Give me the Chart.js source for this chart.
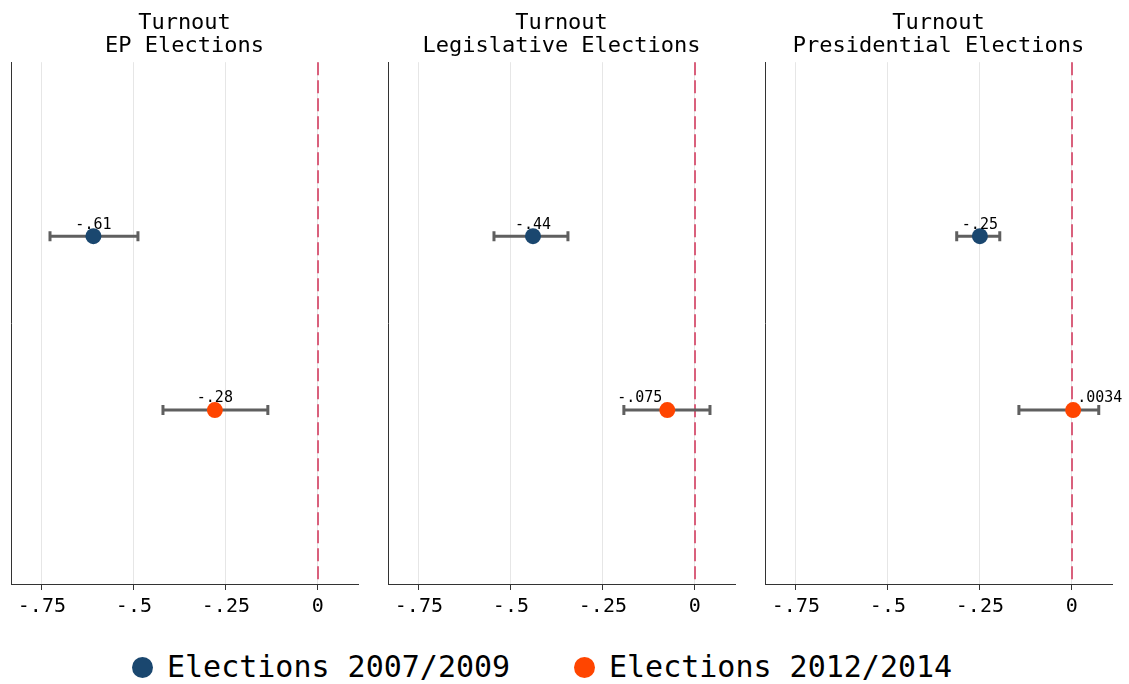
<!DOCTYPE html>
<html>
<head>
<meta charset="utf-8">
<script src="https://cdn.jsdelivr.net/npm/chart.js@4"></script>
<style>
  body { margin: 0; background: #fff; width: 1129px; height: 684px; overflow: hidden; position: relative; }
  .panel { position: absolute; top: 0; width: 375px; height: 640px; }
  .legitem { position: absolute; top: 649px; font-family: "DejaVu Sans Mono", monospace; font-size: 30px; line-height: 36px; white-space: nowrap; color: #000; }
  .dot { display: inline-block; width: 21px; height: 21px; border-radius: 50%; vertical-align: -1px; margin-right: 14px; }
</style>
</head>
<body>
<div class="panel" style="left:0px"><canvas id="ep_graph" width="375" height="640"></canvas></div>
<div class="panel" style="left:377px"><canvas id="leg_graph" width="375" height="640"></canvas></div>
<div class="panel" style="left:754px"><canvas id="pres_graph" width="375" height="640"></canvas></div>
<div id="legend"></div>
<script>
// series names
const seriesNames = ['Elections 2007/2009', 'Elections 2012/2014'];
const seriesColors = ['#1a476f', '#ff4500'];

// panel titles
const epTitle = ['Turnout', 'EP Elections'];
const legTitle = ['Turnout', 'Legislative Elections'];
const presTitle = ['Turnout', 'Presidential Elections'];

// point estimates and 95% CI, [2007/2009, 2012/2014]
const epEst = [-0.61, -0.28];
const epLow = [-0.728, -0.421];
const epHigh = [-0.489, -0.136];

const legEst = [-0.44, -0.075];
const legLow = [-0.546, -0.193];
const legHigh = [-0.345, 0.041];

const presEst = [-0.25, 0.0034];
const presLow = [-0.313, -0.144];
const presHigh = [-0.196, 0.073];

// x axis
const xTicks = [-0.75, -0.5, -0.25, 0];
const xMin = -0.834;
const xMax = 0.109;

function fmt(v) {
  if (v === 0) return '0';
  return String(v).replace('0.', '.');
}

// shared legend under the three panels
const legendLeft = [132, 574];
const legendEl = document.getElementById('legend');
for (let i = 0; i < seriesNames.length; i++) {
  const item = document.createElement('div');
  item.className = 'legitem';
  item.style.left = legendLeft[i] + 'px';
  item.innerHTML = '<span class="dot" style="background:' + seriesColors[i] + '"></span>' + seriesNames[i];
  legendEl.appendChild(item);
}

const ciPlugin = {
  id: 'ciPlugin',
  beforeDatasetsDraw(chart, args, opts) {
    const ctx = chart.ctx;
    const xs = chart.scales.x, ys = chart.scales.y;
    const area = chart.chartArea;
    // dashed reference line at 0
    ctx.save();
    ctx.strokeStyle = '#d9607c';
    ctx.lineWidth = 2;
    ctx.setLineDash([13, 5]);
    ctx.beginPath();
    const x0 = Math.round(xs.getPixelForValue(0));
    ctx.moveTo(x0, area.top);
    ctx.lineTo(x0, area.bottom);
    ctx.stroke();
    ctx.setLineDash([]);
    // error bars
    ctx.strokeStyle = '#5f5f5f';
    ctx.lineWidth = 3;
    for (let i = 0; i < opts.low.length; i++) {
      const y = ys.getPixelForValue(i + 1);
      const a = xs.getPixelForValue(opts.low[i]);
      const b = xs.getPixelForValue(opts.high[i]);
      ctx.beginPath();
      ctx.moveTo(a, y); ctx.lineTo(b, y);
      ctx.moveTo(a, y - 5); ctx.lineTo(a, y + 5);
      ctx.moveTo(b, y - 5); ctx.lineTo(b, y + 5);
      ctx.stroke();
    }
    ctx.restore();
  },
  afterDatasetsDraw(chart, args, opts) {
    const ctx = chart.ctx;
    const xs = chart.scales.x, ys = chart.scales.y;
    ctx.save();
    ctx.font = '15px "DejaVu Sans Mono"';
    ctx.fillStyle = '#000';
    ctx.textBaseline = 'bottom';
    for (let i = 0; i < opts.est.length; i++) {
      const x = xs.getPixelForValue(opts.est[i]);
      const y = ys.getPixelForValue(i + 1);
      const al = opts.align[i];
      ctx.textAlign = al;
      let tx = x;
      if (al === 'right') tx = x - 5;
      if (al === 'left') tx = x + 4;
      ctx.fillText(fmt(opts.est[i]), tx, y - 4);
    }
    ctx.restore();
  }
};

function setupPanel(canvasId, title, est, low, high, align) {
  const ctx = document.getElementById(canvasId).getContext('2d');
  const datasets = [];
  for (let i = 0; i < est.length; i++) {
    datasets.push({
      label: seriesNames[i],
      data: [{ x: est[i], y: i + 1 }],
      backgroundColor: seriesColors[i],
      borderColor: seriesColors[i],
      pointRadius: 8,
      pointHoverRadius: 8,
      borderWidth: 0
    });
  }
  return new Chart(ctx, {
    type: 'scatter',
    data: { datasets: datasets },
    plugins: [ciPlugin],
    options: {
      responsive: false,
      animation: false,
      events: [],
      layout: { padding: { left: 11, right: 17, top: 0, bottom: 16 } },
      plugins: {
        legend: { display: false },
        tooltip: { enabled: false },
        title: {
          display: true,
          text: title,
          color: '#000',
          font: { family: 'DejaVu Sans Mono', size: 22, weight: 'normal', lineHeight: 1.05 },
          padding: { top: 12, bottom: 4 }
        },
        ciPlugin: { est: est, low: low, high: high, align: align }
      },
      scales: {
        x: {
          type: 'linear',
          min: xMin,
          max: xMax,
          afterBuildTicks: (s) => { s.ticks = xTicks.map(v => ({ value: v })); },
          afterFit: (s) => { s.height = 40; },
          grid: { color: '#e6e6e6', lineWidth: 1, drawTicks: true, tickLength: 6, tickColor: '#333' },
          border: { display: true, color: '#333', width: 1 },
          ticks: {
            color: '#000',
            padding: 5,
            maxRotation: 0,
            font: { family: 'DejaVu Sans Mono', size: 20 },
            callback: (v) => fmt(v)
          }
        },
        y: {
          type: 'linear',
          min: 0,
          max: 3,
          reverse: true,
          afterFit: (s) => { s.width = 0; },
          grid: { display: false },
          border: { display: true, color: '#333', width: 1 },
          ticks: { display: false }
        }
      }
    }
  });
}

setupPanel('ep_graph', epTitle, epEst, epLow, epHigh, ['center', 'center']);
setupPanel('leg_graph', legTitle, legEst, legLow, legHigh, ['center', 'right']);
setupPanel('pres_graph', presTitle, presEst, presLow, presHigh, ['center', 'left']);
</script>
</body>
</html>
